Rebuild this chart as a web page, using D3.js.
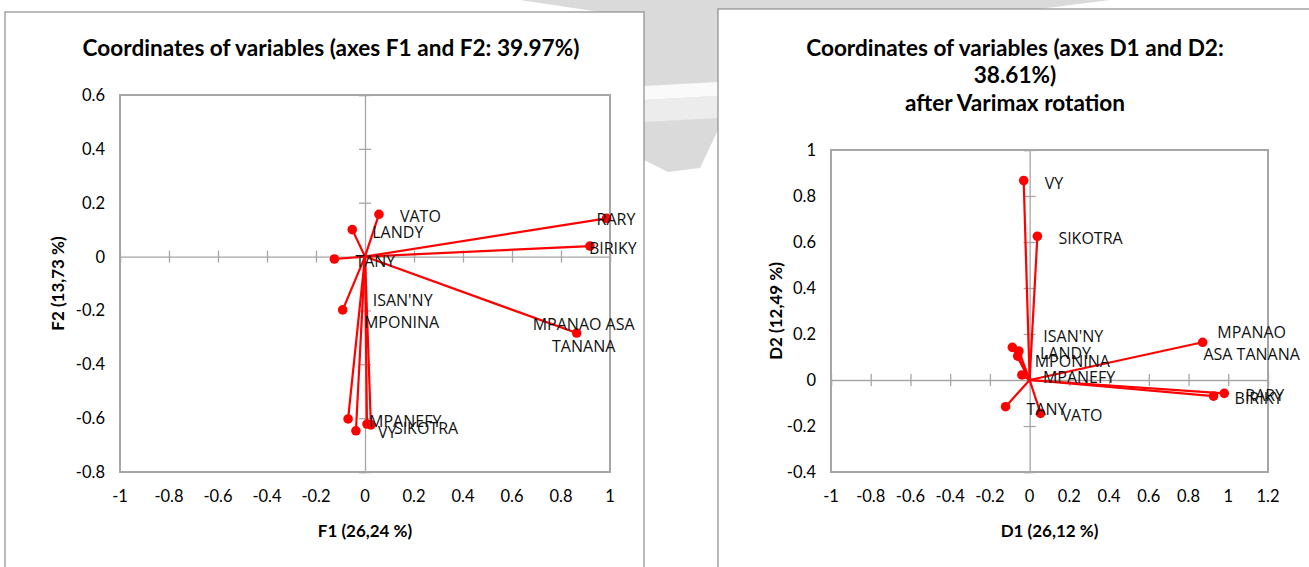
<!DOCTYPE html>
<html>
<head>
<meta charset="utf-8">
<script src="https://cdn.jsdelivr.net/npm/d3@7"></script>
<style>
  html, body { margin: 0; padding: 0; background: #fff; }
  svg { display: block; }
</style>
</head>
<body>
<svg id="chart" width="1309" height="567"></svg>
<script>
// ---- data ----
const variables = ['RARY', 'BIRIKY', 'VATO', 'LANDY', 'TANY', "ISAN'NY", 'MPONINA',
                   'MPANAO ASA TANANA', 'MPANEFY', 'VY', 'SIKOTRA'];
// PCA loadings, axes F1 / F2
const f1Values = [0.986, 0.918, 0.057, -0.052, -0.125, -0.091, 0.008, 0.864, -0.069, -0.037, 0.024];
const f2Values = [0.142, 0.039, 0.157, 0.100, -0.009, -0.198, -0.622, -0.284, -0.603, -0.647, -0.625];
// after Varimax rotation, axes D1 / D2
const d1Values = [0.980, 0.926, 0.055, -0.054, -0.121, -0.087, -0.060, 0.871, -0.039, -0.030, 0.039];
const d2Values = [-0.058, -0.070, -0.145, 0.126, -0.116, 0.142, 0.104, 0.164, 0.022, 0.867, 0.625];

const xTicksF = [-1, -0.8, -0.6, -0.4, -0.2, 0, 0.2, 0.4, 0.6, 0.8, 1];
const yTicksF = [-0.8, -0.6, -0.4, -0.2, 0, 0.2, 0.4, 0.6];
const xTicksD = [-1, -0.8, -0.6, -0.4, -0.2, 0, 0.2, 0.4, 0.6, 0.8, 1, 1.2];
const yTicksD = [-0.4, -0.2, 0, 0.2, 0.4, 0.6, 0.8, 1];

// label placement (text lines, offset from the point in px); default is [21, 2]
const labelsF = {
  'RARY': { d: [-10, 1] }, 'BIRIKY': { d: [-1, 2] }, 'LANDY': { d: [20, 2] },
  "ISAN'NY": { d: [30, -10] }, 'MPONINA': { d: [-3, -102] },
  'VY': { d: [22, 1] }, 'SIKOTRA': { d: [23, 3] },
  'MPANAO ASA TANANA': { lines: ['MPANAO ASA', 'TANANA'], d: [7, -9], mid: true }
};
const labelsD = {
  "ISAN'NY": { d: [31, -11] }, 'MPONINA': { d: [17, 5] },
  'MPANAO ASA TANANA': { lines: ['MPANAO', 'ASA TANANA'], d: [49, -10], mid: true }
};

const RED = '#ff0000', AXIS = '#a6a6a6', FRAME = '#8c8c8c', INK = '#000';
const TITLE_FONT = 'Lato, "Open Sans", sans-serif';
const LABEL_FONT = '"Open Sans", "Noto Sans", sans-serif';

const svg = d3.select('#chart');
svg.append('rect').attr('width', 1309).attr('height', 567).attr('fill', '#fff');

// faint watermark of the source page, only seen outside the chart frames
const wm = svg.append('g');
wm.append('path').attr('d', 'M520,0 L1110,0 L1000,14 L760,60 L718,130 L700,168 L668,172 L644,160 L644,20 L600,12 Z')
  .attr('fill', '#dadada');
wm.append('path').attr('d', 'M644,86 L718,82 L718,96 L644,100 Z').attr('fill', '#fafafa');
wm.append('path').attr('d', 'M644,100 L718,96 L718,118 L644,122 Z').attr('fill', '#ececec');

function drawChart(cfg) {
  const g = svg.append('g');
  g.append('rect').attr('x', cfg.frame[0]).attr('y', cfg.frame[1])
    .attr('width', cfg.frame[2]).attr('height', cfg.frame[3])
    .attr('fill', '#fff').attr('stroke', FRAME).attr('stroke-width', 1.2);

  const x = d3.scaleLinear().domain(d3.extent(cfg.xTicks)).range([cfg.plot[0], cfg.plot[1]]);
  const y = d3.scaleLinear().domain(d3.extent(cfg.yTicks)).range([cfg.plot[3], cfg.plot[2]]);

  // title
  cfg.title.forEach((t, i) => {
    g.append('text').attr('x', cfg.titleX).attr('y', cfg.titleY + i * 27.5)
      .attr('text-anchor', 'middle').attr('dominant-baseline', 'central')
      .attr('font-family', TITLE_FONT).attr('font-weight', 700).attr('font-size', 22.6)
      .attr('fill', INK).text(t);
  });

  // plot border
  g.append('rect').attr('x', x.range()[0]).attr('y', y.range()[1])
    .attr('width', x.range()[1] - x.range()[0]).attr('height', y.range()[0] - y.range()[1])
    .attr('fill', 'none').attr('stroke', AXIS).attr('stroke-width', 2);

  // axes through the origin, ticks crossing
  const ax = g.append('g').attr('transform', `translate(0,${y(0)})`)
    .call(d3.axisBottom(x).tickValues(cfg.xTicks).tickSize(6).tickFormat(''));
  const ay = g.append('g').attr('transform', `translate(${x(0)},0)`)
    .call(d3.axisLeft(y).tickValues(cfg.yTicks).tickSize(6).tickFormat(''));
  [ax, ay].forEach(a => {
    a.select('.domain').attr('stroke', AXIS).attr('stroke-width', 1.3);
    a.selectAll('.tick line').attr('stroke', AXIS).attr('stroke-width', 1.3);
  });
  ax.selectAll('.tick line').attr('y1', -6);
  ay.selectAll('.tick line').attr('x1', 6);

  // tick labels around the plot border
  g.selectAll('.xl').data(cfg.xTicks).join('text')
    .attr('x', d => x(d)).attr('y', y.range()[0] + 24)
    .attr('text-anchor', 'middle').attr('dominant-baseline', 'central')
    .attr('font-family', TITLE_FONT).attr('font-size', 16.5).attr('fill', INK).text(d => String(d));
  g.selectAll('.yl').data(cfg.yTicks).join('text')
    .attr('x', x.range()[0] - 15).attr('y', d => y(d))
    .attr('text-anchor', 'end').attr('dominant-baseline', 'central')
    .attr('font-family', TITLE_FONT).attr('font-size', 16.5).attr('fill', INK).text(d => String(d));

  // axis titles
  g.append('text').attr('x', (x.range()[0] + x.range()[1]) / 2).attr('y', 530)
    .attr('text-anchor', 'middle').attr('dominant-baseline', 'central')
    .attr('font-family', TITLE_FONT).attr('font-weight', 700).attr('font-size', 17)
    .attr('fill', INK).text(cfg.xTitle);
  const ym = (y.range()[0] + y.range()[1]) / 2;
  g.append('text').attr('transform', `translate(${cfg.yTitleX},${ym}) rotate(-90)`)
    .attr('text-anchor', 'middle').attr('dominant-baseline', 'central')
    .attr('font-family', TITLE_FONT).attr('font-weight', 700).attr('font-size', 17)
    .attr('fill', INK).text(cfg.yTitle);

  // vectors
  const pts = variables.map((v, i) => ({ name: v, a: cfg.xs[i], b: cfg.ys[i] }));
  g.selectAll('.vec').data(pts).join('line')
    .attr('x1', x(0)).attr('y1', y(0)).attr('x2', d => x(d.a)).attr('y2', d => y(d.b))
    .attr('stroke', RED).attr('stroke-width', 2.2);
  g.selectAll('.dot').data(pts).join('circle')
    .attr('cx', d => x(d.a)).attr('cy', d => y(d.b)).attr('r', 4.8).attr('fill', RED);

  pts.forEach(p => {
    const lab = cfg.labels[p.name] || {};
    const [dx, dy] = lab.d || [21, 2];
    const lines = lab.lines || [p.name];
    lines.forEach((t, k) => {
      g.append('text').attr('x', x(p.a) + dx).attr('y', y(p.b) + dy + k * 22)
        .attr('text-anchor', lab.mid ? 'middle' : 'start').attr('dominant-baseline', 'central')
        .attr('font-family', LABEL_FONT).attr('font-size', 16).attr('fill', '#111').text(t);
    });
  });
}

drawChart({
  frame: [5, 12, 639, 620], plot: [120, 610, 95, 472],
  xTicks: xTicksF, yTicks: yTicksF, xs: f1Values, ys: f2Values, labels: labelsF,
  title: ['Coordinates of variables (axes F1 and F2: 39.97%)'], titleX: 331, titleY: 47,
  xTitle: 'F1 (26,24 %)', yTitle: 'F2 (13,73 %)', yTitleX: 57
});
drawChart({
  frame: [718, 9, 620, 620], plot: [831, 1268, 150, 472],
  xTicks: xTicksD, yTicks: yTicksD, xs: d1Values, ys: d2Values, labels: labelsD,
  title: ['Coordinates of variables (axes D1 and D2:', '38.61%)', 'after Varimax rotation'],
  titleX: 1015, titleY: 47,
  xTitle: 'D1 (26,12 %)', yTitle: 'D2 (12,49 %)', yTitleX: 775
});
</script>
</body>
</html>
